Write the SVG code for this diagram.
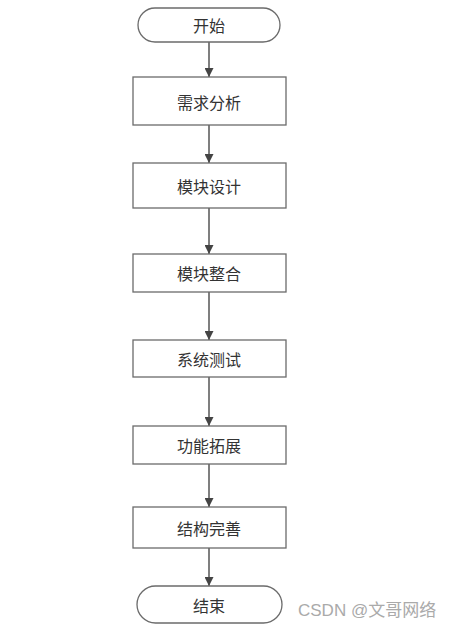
<svg xmlns="http://www.w3.org/2000/svg" width="451" height="629" viewBox="0 0 451 629">
<style>
.box{fill:#fff;stroke:#6b6b6b;stroke-width:1.3}
.lbl{font-family:"Noto Sans CJK SC","Noto Sans",sans-serif;font-size:16px;fill:#333;text-anchor:middle;dominant-baseline:central}
.ln{stroke:#555;stroke-width:1.5;fill:none}
.wm{font-family:"Liberation Sans","Noto Sans CJK SC",sans-serif;font-size:17px;fill:#aaa}
</style>
<defs>
<marker id="ah" viewBox="0 0 10 10" refX="10" refY="5" markerWidth="9" markerHeight="9" markerUnits="userSpaceOnUse" orient="auto">
<path d="M0,0 L10,5 L0,10 Z" fill="#444"/>
</marker>
</defs>
<rect width="451" height="629" fill="#fff"/>
<g id="connectors">
<line class="ln" x1="209" y1="42" x2="209" y2="77" marker-end="url(#ah)"/>
<line class="ln" x1="209" y1="125" x2="209" y2="163" marker-end="url(#ah)"/>
<line class="ln" x1="209" y1="208" x2="209" y2="254" marker-end="url(#ah)"/>
<line class="ln" x1="209" y1="292" x2="209" y2="340" marker-end="url(#ah)"/>
<line class="ln" x1="209" y1="377" x2="209" y2="426" marker-end="url(#ah)"/>
<line class="ln" x1="209" y1="464" x2="209" y2="507" marker-end="url(#ah)"/>
<line class="ln" x1="209" y1="548" x2="209" y2="586" marker-end="url(#ah)"/>
</g>
<g id="start"><rect class="box" x="138" y="8" width="142" height="34" rx="17"/><text class="lbl" x="209" y="25">开始</text></g>
<g id="n1"><rect class="box" x="133" y="77" width="153" height="48"/><text class="lbl" x="209" y="102">需求分析</text></g>
<g id="n2"><rect class="box" x="133" y="163" width="153" height="45"/><text class="lbl" x="209" y="186">模块设计</text></g>
<g id="n3"><rect class="box" x="133" y="254" width="153" height="38"/><text class="lbl" x="209" y="273">模块整合</text></g>
<g id="n4"><rect class="box" x="133" y="340" width="153" height="37"/><text class="lbl" x="209" y="359">系统测试</text></g>
<g id="n5"><rect class="box" x="133" y="426" width="153" height="38"/><text class="lbl" x="209" y="445">功能拓展</text></g>
<g id="n6"><rect class="box" x="133" y="507" width="153" height="41"/><text class="lbl" x="209" y="528">结构完善</text></g>
<g id="end"><rect class="box" x="137" y="586" width="145" height="37" rx="18.5"/><text class="lbl" x="209" y="605">结束</text></g>
<text class="wm" x="298" y="616">CSDN @文哥网络</text>
</svg>
